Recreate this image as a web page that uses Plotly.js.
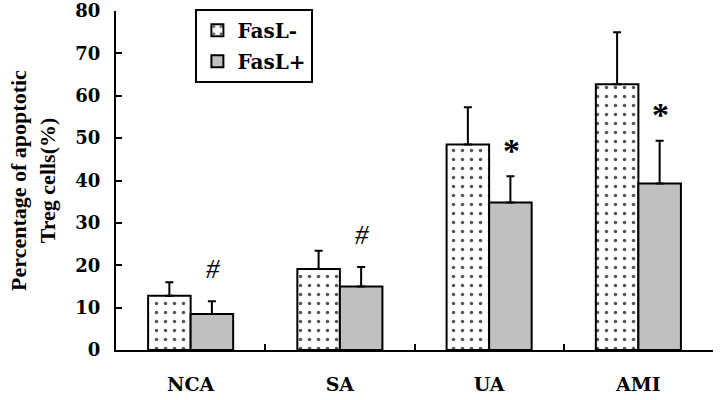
<!DOCTYPE html>
<html>
<head>
<meta charset="utf-8">
<script src="https://cdn.plot.ly/plotly-3.0.1.min.js"></script>
<style>
  html, body { margin: 0; padding: 0; background: #fff; }
  #chart { width: 720px; height: 400px; }
</style>
</head>
<body>
<div id="chart"></div>
<script>
// groups on the x axis
const groups = ['NCA', 'SA', 'UA', 'AMI'];

// mean percentage of apoptotic Treg cells
const fasLNeg = [12.8, 19.1, 48.5, 62.7];
const fasLPos = [8.5, 15.0, 34.8, 39.3];

// upper error (SD)
const fasLNegErr = [3.2, 4.3, 8.8, 12.3];
const fasLPosErr = [3.0, 4.6, 6.2, 10.1];

// significance marks over FasL+ bars
const marks = ['#', '#', '*', '*'];

const serif = 'Liberation Serif, Times New Roman, serif';
const tickFont = 'DejaVu Serif, serif';

let traces = [{
  type: 'bar',
  name: 'FasL-',
  legendgroup: 'a',
  x: groups,
  y: fasLNeg,
  marker: {
    color: 'white',
    line: { color: 'black', width: 2 },
    pattern: { shape: '.', fgcolor: '#555', bgcolor: 'white', size: 9, solidity: 0.12 }
  },
  error_y: {
    type: 'data', symmetric: false,
    array: fasLNegErr, arrayminus: [0, 0, 0, 0],
    color: 'black', thickness: 2, width: 4
  }
}, {
  type: 'bar',
  name: 'FasL+',
  legendgroup: 'b',
  x: groups,
  y: fasLPos,
  marker: {
    color: '#c0c0c0',
    line: { color: 'black', width: 2 }
  },
  error_y: {
    type: 'data', symmetric: false,
    array: fasLPosErr, arrayminus: [0, 0, 0, 0],
    color: 'black', thickness: 2, width: 4
  }
}];

// significance annotations, placed just above each FasL+ error bar
let notes = groups.map((g, i) => ({
  x: g,
  y: fasLPos[i] + fasLPosErr[i],
  xref: 'x', yref: 'y',
  text: marks[i],
  showarrow: false,
  xshift: 22,
  yshift: marks[i] === '#' ? 32 : 26,
  font: marks[i] === '#'
    ? { family: serif, size: 27, color: 'black', style: 'italic' }
    : { family: serif, size: 34, color: 'black', weight: 'bold' }
}));

let layout = {
  width: 720,
  height: 400,
  margin: { l: 116, r: 7, t: 10.5, b: 49.5 },
  paper_bgcolor: 'white',
  plot_bgcolor: 'white',
  barmode: 'group',
  bargap: 0.43,
  bargroupgap: 0,
  showlegend: true,
  legend: {
    x: 0.133, y: 1.007,
    xanchor: 'left', yanchor: 'top',
    bgcolor: 'white',
    bordercolor: 'black',
    borderwidth: 2,
    tracegroupgap: 2,
    font: { family: tickFont, size: 20, color: 'black', weight: 'bold' }
  },
  xaxis: {
    type: 'category',
    showgrid: false,
    zeroline: false,
    showline: true,
    linecolor: 'black',
    linewidth: 2,
    ticks: 'inside',
    tickson: 'boundaries',
    ticklen: 6,
    tickwidth: 2,
    tickcolor: 'black',
    ticklabelstandoff: 16,
    tickfont: { family: tickFont, size: 19, color: 'black', weight: 'bold' }
  },
  yaxis: {
    range: [0, 80],
    dtick: 10,
    showgrid: false,
    zeroline: false,
    showline: true,
    linecolor: 'black',
    linewidth: 2,
    ticks: 'inside',
    ticklen: 6,
    tickwidth: 2,
    tickcolor: 'black',
    ticklabelstandoff: 10,
    tickfont: { family: tickFont, size: 18, color: 'black', weight: 'bold' },
    title: {
      text: 'Percentage of apoptotic<br>Treg cells(%)',
      standoff: 14,
      font: { family: serif, size: 22, color: 'black', weight: 'bold' }
    }
  },
  annotations: notes
};

Plotly.newPlot('chart', traces, layout, { displayModeBar: false, staticPlot: true });
</script>
</body>
</html>
